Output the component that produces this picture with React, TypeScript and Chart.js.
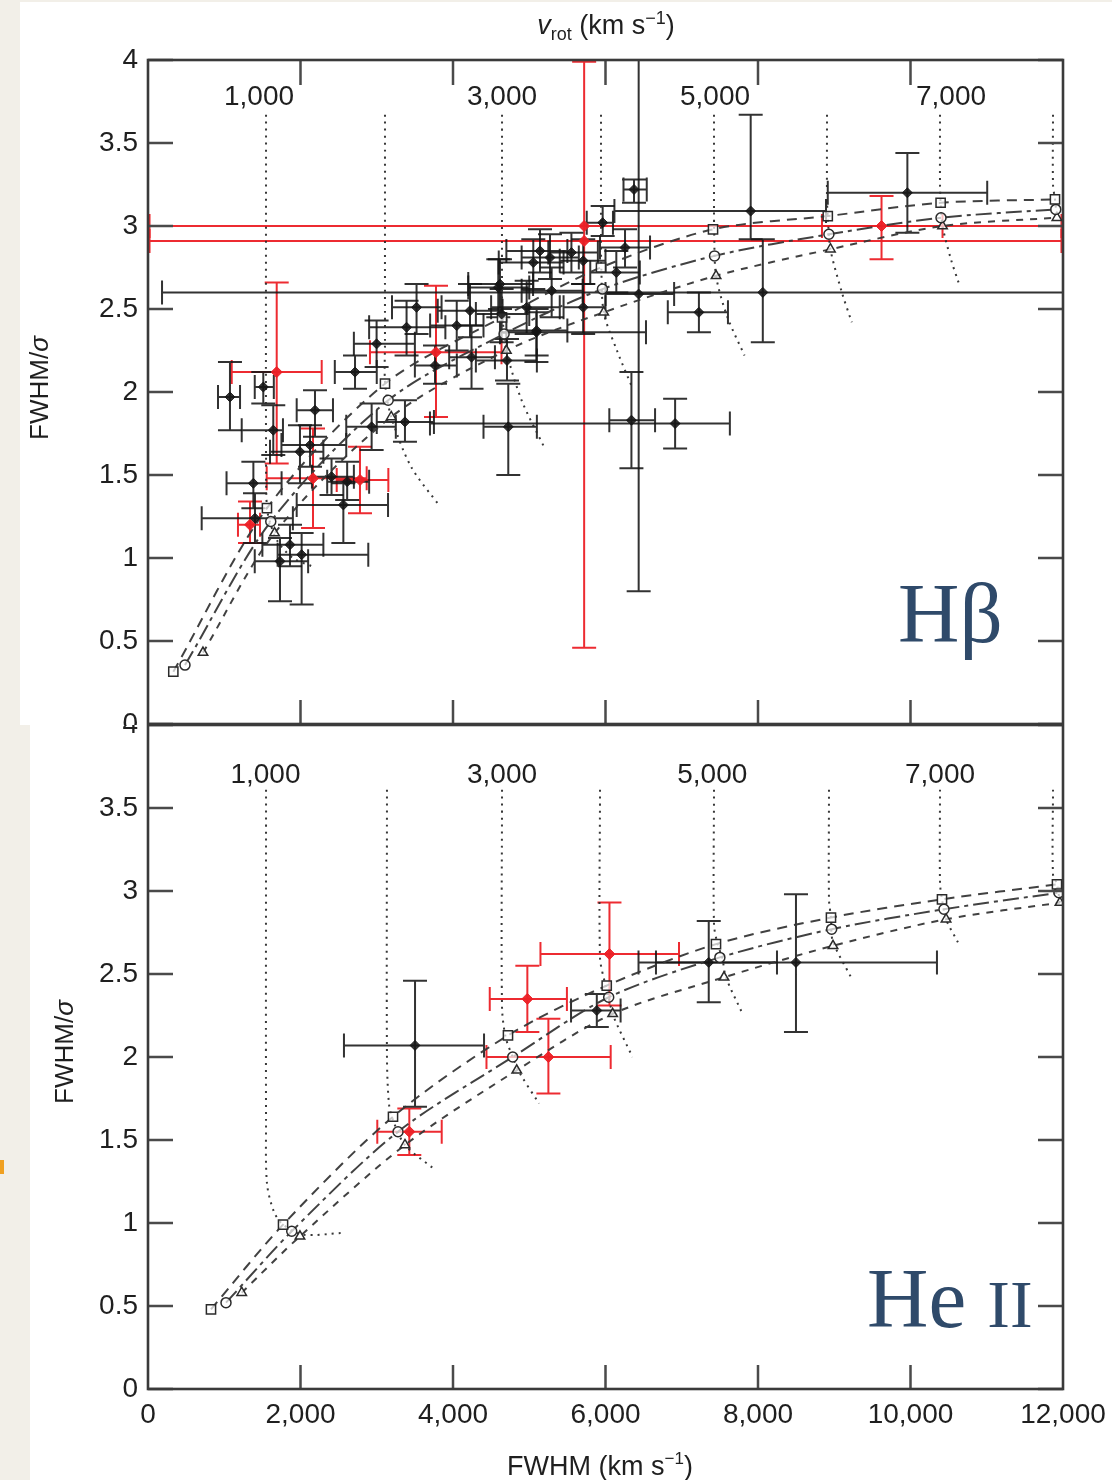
import React, { useEffect, useRef } from "react";
import { Chart, registerables } from "chart.js";
Chart.register(...registerables);

type ErrPt = [number, number, number, number, number, number]; // fwhm, ratio, fwhmLo, fwhmHi, ratioLo, ratioHi
type XY = [number, number];

const fwhmTicks = [0, 2000, 4000, 6000, 8000, 10000, 12000];
const ratioTicks = [0, 0.5, 1, 1.5, 2, 2.5, 3, 3.5, 4];
const vrotTickLabels = ["1,000", "3,000", "5,000", "7,000"];
const hbVrotLabelAt = [1456, 4643, 7436, 10531];
const heVrotLabelAt = [1540, 4643, 7400, 10387];

// ---------- H-beta panel ----------
const hbBlack: ErrPt[] = [
  [1075, 1.97, 918, 1207, 1.77, 2.18],
  [1512, 2.03, 1400, 1650, 1.93, 2.12],
  [1643, 1.77, 1229, 1770, 1.62, 1.92],
  [2190, 1.89, 1950, 2426, 1.73, 2.01],
  [2125, 1.68, 1750, 2600, 1.55, 1.8],
  [1993, 1.64, 1600, 2300, 1.45, 1.8],
  [1382, 1.45, 1030, 1752, 1.3, 1.58],
  [2407, 1.49, 2150, 2700, 1.38, 1.6],
  [2612, 1.46, 2350, 2900, 1.35, 1.58],
  [2562, 1.32, 1950, 3148, 1.09, 1.45],
  [1403, 1.24, 704, 1900, 1.09, 1.39],
  [1862, 1.08, 1500, 2300, 0.95, 1.2],
  [2015, 1.02, 1700, 2889, 0.72, 1.15],
  [1731, 0.98, 1400, 2100, 0.74, 1.12],
  [2715, 2.12, 2450, 3000, 2.02, 2.22],
  [2998, 2.29, 2700, 3500, 2.15, 2.43],
  [3391, 2.39, 2900, 3900, 2.22, 2.55],
  [3522, 2.51, 3200, 3850, 2.35, 2.65],
  [3764, 2.16, 3500, 4050, 2.05, 2.28],
  [4243, 2.21, 3950, 4550, 2.02, 2.4],
  [2933, 1.79, 2600, 3250, 1.65, 1.93],
  [3370, 1.82, 3000, 3750, 1.7, 1.95],
  [4725, 1.79, 4400, 5100, 1.5, 2.05],
  [6340, 1.83, 6050, 6650, 1.54, 2.12],
  [6913, 1.81, 3698, 7631, 1.66, 1.96],
  [6435, 2.59, 6000, 6900, 0.8, 4.3],
  [8063, 2.6, 184, 12500, 2.3, 2.92],
  [7904, 3.09, 6117, 8892, 2.92, 3.67],
  [9959, 3.2, 8915, 11006, 2.96, 3.44],
  [6374, 3.22, 6236, 6541, 3.14, 3.28],
  [5963, 3.02, 5754, 6098, 2.94, 3.12],
  [7225, 2.48, 6817, 7606, 2.36, 2.6],
  [5707, 2.51, 5450, 6000, 2.35, 2.65],
  [5094, 2.36, 4616, 6531, 2.18, 2.48],
  [6256, 2.87, 5928, 6584, 2.75, 2.98],
  [6142, 2.72, 5800, 6450, 2.6, 2.85],
  [5708, 2.79, 5400, 6000, 2.65, 2.92],
  [5272, 2.81, 4900, 5650, 2.68, 2.95],
  [5553, 2.84, 5250, 5900, 2.72, 2.96],
  [5141, 2.85, 4700, 5500, 2.72, 2.98],
  [5053, 2.78, 4600, 5450, 2.62, 2.92],
  [5294, 2.61, 4900, 5700, 2.45, 2.75],
  [4966, 2.51, 4500, 5400, 2.35, 2.67],
  [4616, 2.65, 4200, 5050, 2.5, 2.8],
  [4223, 2.49, 3800, 4650, 2.33, 2.65],
  [4638, 2.47, 4300, 5000, 2.3, 2.62],
  [4594, 2.63, 4200, 5000, 2.45, 2.8],
  [4049, 2.4, 3700, 4400, 2.25, 2.55],
  [5097, 2.37, 4700, 5500, 2.22, 2.5],
  [4708, 2.19, 4300, 5100, 2.07, 2.32],
];

const hbRed: ErrPt[] = [
  [1688, 2.12, 1098, 2278, 1.57, 2.66],
  [2780, 1.47, 2475, 3152, 1.27, 1.67],
  [1338, 1.2, 1180, 1469, 1.09, 1.34],
  [3777, 2.24, 2911, 4636, 1.85, 2.64],
  [2164, 1.48, 1557, 2868, 1.18, 1.78],
  [5720, 3.0, 20, 11980, 0.46, 3.99],
  [5720, 2.91, 20, 11980, 2.91, 2.91],
  [9620, 3.0, 8839, 10420, 2.8, 3.18],
];

const hbSquare: XY[] = [[332, 0.315], [1560, 1.3], [3108, 2.05], [4643, 2.45], [5941, 2.75], [7410, 2.98], [8915, 3.06], [10395, 3.14], [11895, 3.16]];
const hbCircle: XY[] = [[485, 0.355], [1610, 1.22], [3150, 1.95], [4670, 2.35], [5960, 2.62], [7430, 2.82], [8930, 2.95], [10400, 3.05], [11905, 3.1]];
const hbTriangle: XY[] = [[721, 0.43], [1660, 1.15], [3190, 1.85], [4700, 2.25], [5977, 2.48], [7450, 2.7], [8950, 2.86], [10420, 3.0], [11920, 3.05]];

const hbVrot1000: XY[] = [[1548, 3.67], [1548, 1.6], [1560, 1.3], [1610, 1.2], [1700, 1.1], [1900, 1.0], [2150, 0.95]];
const hbVrot2000: XY[] = [[3108, 3.67], [3108, 2.3], [3110, 2.05], [3190, 1.85], [3450, 1.55], [3830, 1.31]];
const hbVrot3000: XY[] = [[4643, 3.67], [4643, 2.6], [4650, 2.45], [4700, 2.25], [4900, 1.95], [5193, 1.67]];
const hbVrot4000: XY[] = [[5941, 3.67], [5941, 2.9], [5945, 2.75], [5977, 2.48], [6150, 2.25], [6357, 2.02]];
const hbVrot5000: XY[] = [[7423, 3.67], [7423, 3.1], [7425, 2.98], [7450, 2.7], [7600, 2.45], [7823, 2.22]];
const hbVrot6000: XY[] = [[8905, 3.67], [8905, 3.15], [8915, 3.06], [8950, 2.86], [9100, 2.6], [9230, 2.42]];
const hbVrot7000: XY[] = [[10387, 3.67], [10387, 3.25], [10395, 3.14], [10420, 3.0], [10530, 2.8], [10630, 2.66]];
const hbVrot8000: XY[] = [[11869, 3.67], [11869, 3.25], [11895, 3.16], [11920, 3.05]];

// ---------- He II panel ----------
const heBlack: ErrPt[] = [
  [3502, 2.07, 2570, 4407, 1.7, 2.46],
  [5886, 2.28, 5548, 6198, 2.18, 2.38],
  [7354, 2.57, 6433, 8249, 2.33, 2.82],
  [8498, 2.57, 6662, 10347, 2.15, 2.98],
];
const heRed: ErrPt[] = [
  [4975, 2.35, 4482, 5494, 2.15, 2.55],
  [6052, 2.62, 5147, 6964, 2.31, 2.93],
  [5251, 2.0, 4439, 6068, 1.78, 2.23],
  [3427, 1.55, 3007, 3852, 1.41, 1.69],
];

const heSquare: XY[] = [[826, 0.48], [1771, 0.99], [3213, 1.64], [4721, 2.13], [6016, 2.43], [7449, 2.68], [8957, 2.84], [10413, 2.95], [11921, 3.04]];
const heCircle: XY[] = [[1023, 0.52], [1885, 0.95], [3279, 1.55], [4783, 2.0], [6042, 2.36], [7500, 2.6], [8966, 2.77], [10439, 2.89], [11947, 2.99]];
const heTriangle: XY[] = [[1229, 0.58], [1993, 0.92], [3370, 1.47], [4836, 1.92], [6094, 2.26], [7554, 2.48], [8984, 2.67], [10466, 2.83], [11960, 2.93]];

const heVrot1000: XY[] = [[1548, 3.61], [1548, 1.6], [1560, 1.24], [1650, 1.07], [1771, 0.99], [2033, 0.93], [2544, 0.94]];
const heVrot2000: XY[] = [[3134, 3.61], [3134, 2.0], [3160, 1.72], [3213, 1.62], [3370, 1.47], [3738, 1.33]];
const heVrot3000: XY[] = [[4643, 3.61], [4643, 2.3], [4690, 2.12], [4783, 2.0], [4880, 1.9], [5128, 1.72]];
const heVrot4000: XY[] = [[5928, 3.61], [5928, 2.6], [5990, 2.45], [6042, 2.36], [6100, 2.25], [6354, 2.0]];
const heVrot5000: XY[] = [[7423, 3.61], [7423, 2.8], [7470, 2.68], [7530, 2.6], [7580, 2.48], [7787, 2.27]];
const heVrot6000: XY[] = [[8931, 3.61], [8931, 2.95], [8957, 2.84], [8980, 2.7], [9220, 2.48]];
const heVrot7000: XY[] = [[10387, 3.61], [10387, 3.05], [10413, 2.95], [10466, 2.83], [10623, 2.69]];
const heVrot8000: XY[] = [[11869, 3.61], [11869, 3.1], [11921, 3.04], [11960, 2.93]];

const FONT = '"Liberation Sans", Arial, Helvetica, sans-serif';
const SERIF = '"Liberation Serif", "DejaVu Serif", serif';
const RED = "rgba(236,32,38,0.95)";
const BLACK = "rgba(22,22,22,0.88)";

function errDataset(pts: ErrPt[], color: string, radius: number) {
  return {
    data: pts.map((p) => ({ x: p[0], y: p[1] })),
    errorBars: pts.map((p) => [p[2], p[3], p[4], p[5]]),
    errorColor: color,
    showLine: false,
    pointStyle: "rectRot",
    pointRadius: radius,
    backgroundColor: color,
    borderColor: color,
    borderWidth: 1,
    order: 0,
  };
}

function modelDataset(pts: XY[], style: string, radius: number, dash: number[]) {
  return {
    data: pts.map((p) => ({ x: p[0], y: p[1] })),
    showLine: true,
    borderColor: "rgba(55,55,55,0.95)",
    borderWidth: 2,
    borderDash: dash,
    tension: 0.3,
    pointStyle: style,
    pointRadius: radius,
    pointBorderColor: "#2a2a2a",
    pointBorderWidth: 1.5,
    pointBackgroundColor: "rgba(255,255,255,0.7)",
    order: 1,
  };
}

function contourDataset(pts: XY[]) {
  return {
    data: pts.map((p) => ({ x: p[0], y: p[1] })),
    showLine: true,
    borderColor: "rgba(45,45,45,0.95)",
    borderWidth: 2,
    borderDash: [2, 5],
    tension: 0.3,
    pointRadius: 0,
    order: 2,
  };
}

type Part = { t: string; f: string; dy?: number };
function drawParts(ctx: CanvasRenderingContext2D, parts: Part[], x: number, y: number) {
  let total = 0;
  parts.forEach((p) => {
    ctx.font = p.f;
    total += ctx.measureText(p.t).width;
  });
  let cx = x - total / 2;
  ctx.textAlign = "left";
  parts.forEach((p) => {
    ctx.font = p.f;
    ctx.fillText(p.t, cx, y + (p.dy || 0));
    cx += ctx.measureText(p.t).width;
  });
}

const errorBarPlugin = {
  id: "errbars",
  beforeDatasetsDraw(chart: any) {
    const { ctx, chartArea: a, scales } = chart;
    const xs = scales.x;
    const ys = scales.y;
    ctx.save();
    ctx.beginPath();
    ctx.rect(a.left, a.top, a.right - a.left, a.bottom - a.top);
    ctx.clip();
    chart.data.datasets.forEach((ds: any) => {
      if (!ds.errorBars) return;
      ctx.strokeStyle = ds.errorColor;
      ctx.lineWidth = 2;
      const c = 12;
      ds.data.forEach((p: any, i: number) => {
        const e = ds.errorBars[i];
        const px = xs.getPixelForValue(p.x);
        const py = ys.getPixelForValue(p.y);
        const x0 = xs.getPixelForValue(e[0]);
        const x1 = xs.getPixelForValue(e[1]);
        const y0 = ys.getPixelForValue(e[2]);
        const y1 = ys.getPixelForValue(e[3]);
        ctx.beginPath();
        ctx.moveTo(x0, py);
        ctx.lineTo(x1, py);
        ctx.moveTo(x0, py - c);
        ctx.lineTo(x0, py + c);
        ctx.moveTo(x1, py - c);
        ctx.lineTo(x1, py + c);
        if (e[2] !== e[3]) {
          ctx.moveTo(px, y0);
          ctx.lineTo(px, y1);
          ctx.moveTo(px - c, y0);
          ctx.lineTo(px + c, y0);
          ctx.moveTo(px - c, y1);
          ctx.lineTo(px + c, y1);
        }
        ctx.stroke();
      });
    });
    ctx.restore();
  },
};

type Deco = {
  topTicks: boolean;
  whiteTop: number;
  labelAt: number[];
  labelY: number;
  yTitle: [number, number];
  panelText: (ctx: CanvasRenderingContext2D) => void;
  extra: (ctx: CanvasRenderingContext2D, chart: any) => void;
};

function makeDecor(cfg: Deco) {
  return {
    id: "decor",
    beforeDraw(chart: any) {
      const { ctx, width, height } = chart;
      ctx.save();
      ctx.fillStyle = "#ffffff";
      ctx.fillRect(0, cfg.whiteTop, width, height - cfg.whiteTop);
      ctx.restore();
    },
    afterDraw(chart: any) {
      const { ctx, chartArea: a, scales } = chart;
      const xs = scales.x;
      const ys = scales.y;
      ctx.save();
      // inward ticks
      ctx.strokeStyle = "#4a4a4a";
      ctx.lineWidth = 2.5;
      ctx.beginPath();
      ratioTicks.forEach((v) => {
        const py = ys.getPixelForValue(v);
        ctx.moveTo(a.left, py);
        ctx.lineTo(a.left + 25, py);
        ctx.moveTo(a.right, py);
        ctx.lineTo(a.right - 25, py);
      });
      fwhmTicks.forEach((v) => {
        if (v <= 0 || v >= 12000) return;
        const px = xs.getPixelForValue(v);
        ctx.moveTo(px, a.bottom);
        ctx.lineTo(px, a.bottom - 24);
        if (cfg.topTicks) {
          ctx.moveTo(px, a.top);
          ctx.lineTo(px, a.top + 25);
        }
      });
      ctx.stroke();
      // frame
      ctx.strokeStyle = "#3a3a3a";
      ctx.lineWidth = 2.6;
      ctx.strokeRect(a.left, a.top, a.right - a.left, a.bottom - a.top);
      // vrot labels
      ctx.fillStyle = "#1f1f1f";
      ctx.font = `28px ${FONT}`;
      ctx.textAlign = "center";
      ctx.textBaseline = "middle";
      cfg.labelAt.forEach((v, i) => {
        ctx.fillText(vrotTickLabels[i], xs.getPixelForValue(v), cfg.labelY);
      });
      // y title
      ctx.save();
      ctx.translate(cfg.yTitle[0], cfg.yTitle[1]);
      ctx.rotate(-Math.PI / 2);
      ctx.textBaseline = "middle";
      drawParts(ctx, [
        { t: "FWHM/", f: `26px ${FONT}` },
        { t: "σ", f: `italic 26px ${FONT}` },
      ], 0, 0);
      ctx.restore();
      ctx.textBaseline = "alphabetic";
      cfg.extra(ctx, chart);
      cfg.panelText(ctx);
      ctx.restore();
    },
  };
}

function baseOptions(padding: any, yWidth: number, xHeight: number, showX: boolean) {
  return {
    animation: false,
    responsive: false,
    maintainAspectRatio: false,
    devicePixelRatio: 1,
    layout: { padding, autoPadding: false },
    plugins: { legend: { display: false }, tooltip: { enabled: false } },
    scales: {
      x: {
        type: "linear",
        min: 0,
        max: 12000,
        grid: { display: false, drawTicks: false },
        border: { display: false },
        ticks: {
          display: showX,
          padding: 9,
          color: "#1f1f1f",
          font: { family: FONT, size: 28 },
          maxRotation: 0,
          autoSkip: false,
          callback: (v: any) => Number(v).toLocaleString("en-US"),
        },
        afterBuildTicks: (s: any) => {
          s.ticks = fwhmTicks.map((v) => ({ value: v }));
        },
        afterFit: (s: any) => {
          s.height = xHeight;
          s.paddingLeft = 0;
          s.paddingRight = 0;
        },
      },
      y: {
        type: "linear",
        min: 0,
        max: 4,
        grid: { display: false, drawTicks: false },
        border: { display: false },
        ticks: {
          padding: 10,
          color: "#1f1f1f",
          font: { family: FONT, size: 28 },
          autoSkip: false,
          callback: (v: any) => String(v),
        },
        afterBuildTicks: (s: any) => {
          s.ticks = ratioTicks.map((v) => ({ value: v }));
        },
        afterFit: (s: any) => {
          s.width = yWidth;
          s.paddingTop = 0;
          s.paddingBottom = 0;
        },
      },
    },
  };
}

export default function App() {
  const topRef = useRef<HTMLCanvasElement>(null);
  const botRef = useRef<HTMLCanvasElement>(null);

  useEffect(() => {
    const topChart = new Chart(topRef.current as HTMLCanvasElement, {
      type: "scatter",
      data: {
        datasets: [
          errDataset(hbRed, RED, 5.5),
          errDataset(hbBlack, BLACK, 5),
          modelDataset(hbSquare, "rect", 6.5, [10, 7]),
          modelDataset(hbCircle, "circle", 5, [16, 5, 4, 5]),
          modelDataset(hbTriangle, "triangle", 5.5, [7, 7]),
          ...[hbVrot1000, hbVrot2000, hbVrot3000, hbVrot4000, hbVrot5000, hbVrot6000, hbVrot7000, hbVrot8000].map(contourDataset),
        ] as any,
      },
      options: baseOptions({ top: 60, right: 49, bottom: 1, left: 0 }, 128, 0, false) as any,
      plugins: [
        errorBarPlugin,
        makeDecor({
          topTicks: true,
          whiteTop: 2,
          labelAt: hbVrotLabelAt,
          labelY: 97,
          yTitle: [21, 388],
          panelText: (ctx) => {
            ctx.fillStyle = "#2f4a6a";
            ctx.font = `85px ${SERIF}`;
            ctx.textAlign = "left";
            ctx.fillText("Hβ", 878, 642);
          },
          extra: (ctx) => {
            ctx.fillStyle = "#1f1f1f";
            drawParts(ctx, [
              { t: "v", f: `italic 27px ${FONT}` },
              { t: "rot", f: `18px ${FONT}`, dy: 6 },
              { t: " (km s", f: `27px ${FONT}` },
              { t: "−1", f: `18px ${FONT}`, dy: -10 },
              { t: ")", f: `27px ${FONT}` },
            ], 586, 34);
          },
        }),
      ],
    });

    const botChart = new Chart(botRef.current as HTMLCanvasElement, {
      type: "scatter",
      data: {
        datasets: [
          errDataset(heRed, RED, 5.5),
          errDataset(heBlack, BLACK, 5),
          modelDataset(heSquare, "rect", 6.5, [10, 7]),
          modelDataset(heCircle, "circle", 5, [16, 5, 4, 5]),
          modelDataset(heTriangle, "triangle", 5.5, [7, 7]),
          ...[heVrot1000, heVrot2000, heVrot3000, heVrot4000, heVrot5000, heVrot6000, heVrot7000, heVrot8000].map(contourDataset),
        ] as any,
      },
      options: baseOptions({ top: 0, right: 49, bottom: 0, left: 0 }, 118, 91, true) as any,
      plugins: [
        errorBarPlugin,
        makeDecor({
          topTicks: false,
          whiteTop: 0,
          labelAt: heVrotLabelAt,
          labelY: 50,
          yTitle: [36, 327],
          panelText: (ctx) => {
            ctx.fillStyle = "#2f4a6a";
            ctx.textAlign = "left";
            ctx.font = `85px ${SERIF}`;
            ctx.fillText("He", 837, 602);
            const w = ctx.measureText("He ").width;
            ctx.font = `68px ${SERIF}`;
            ctx.fillText("II", 837 + w, 602);
          },
          extra: (ctx) => {
            ctx.fillStyle = "#1f1f1f";
            drawParts(ctx, [
              { t: "FWHM (km s", f: `27px ${FONT}` },
              { t: "−1", f: `17px ${FONT}`, dy: -11 },
              { t: ")", f: `27px ${FONT}` },
            ], 570, 750);
          },
        }),
      ],
    });

    return () => {
      topChart.destroy();
      botChart.destroy();
    };
  }, []);

  return (
    <div style={{ position: "absolute", left: 0, top: 0, width: 1112, height: 1480, background: "#f2efe8", overflow: "hidden" }}>
      <canvas ref={topRef} width={1092} height={725} style={{ position: "absolute", left: 20, top: 0, width: 1092, height: 725 }} />
      <canvas ref={botRef} width={1082} height={755} style={{ position: "absolute", left: 30, top: 725, width: 1082, height: 755 }} />
      <div style={{ position: "absolute", left: 0, top: 1160, width: 4, height: 14, background: "#f0a020" }} />
    </div>
  );
}
